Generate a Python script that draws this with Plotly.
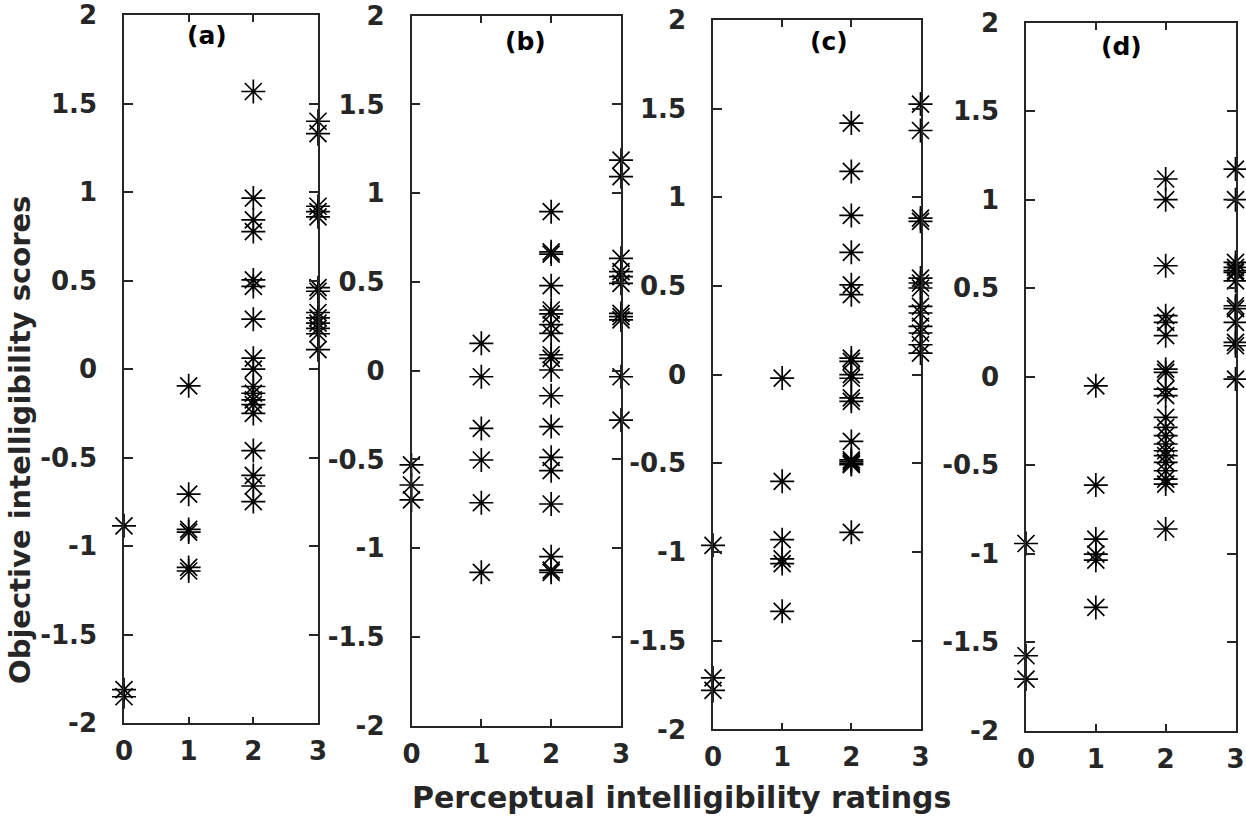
import plotly.graph_objects as go

W, H = 1246, 820

# ---- data: objective intelligibility scores grouped by perceptual rating ----
ratings = [0, 1, 2, 3]

a0 = [-0.885, -1.81, -1.85]
a1 = [-0.094, -0.706, -0.905, -0.92, -1.12, -1.14]
a2 = [1.568, 0.966, 0.843, 0.777, 0.504, 0.467, 0.282, 0.062, 0.0, -0.098, -0.136,
      -0.173, -0.2, -0.25, -0.46, -0.6, -0.66, -0.748]
a3 = [1.40, 1.33, 0.92, 0.89, 0.86, 0.46, 0.44, 0.32, 0.29, 0.26, 0.23, 0.20, 0.11]

b0 = [-0.531, -0.644, -0.728]
b1 = [0.154, -0.034, -0.325, -0.503, -0.744, -1.136]
b2 = [0.896, 0.67, 0.657, 0.479, 0.342, 0.32, 0.26, 0.21, 0.09, 0.07, 0.004, -0.141,
      -0.315, -0.488, -0.563, -0.751, -1.048, -1.123, -1.136]
b3 = [1.186, 1.093, 0.633, 0.558, 0.53, 0.492, 0.323, 0.305, 0.286, -0.034, -0.278]

c0 = [-0.962, -1.71, -1.78]
c1 = [-0.019, -0.601, -0.93, -1.038, -1.065, -1.334]
c2 = [1.419, 1.146, 0.898, 0.69, 0.507, 0.451, 0.094, 0.075, 0.0, -0.02, -0.131,
      -0.15, -0.376, -0.48, -0.49, -0.5, -0.507, -0.889]
c3 = [1.526, 1.377, 0.883, 0.865, 0.545, 0.517, 0.489, 0.385, 0.348, 0.272, 0.235,
      0.169, 0.122]

d0 = [-0.942, -1.576, -1.708]
d1 = [-0.051, -0.612, -0.917, -1.002, -1.036, -1.303]
d2 = [1.117, 1.0, 0.627, 0.345, 0.307, 0.232, 0.043, 0.025, -0.07, -0.107, -0.23,
      -0.286, -0.333, -0.38, -0.418, -0.446, -0.484, -0.531, -0.578, -0.606, -0.86]
d3 = [1.173, 1.0, 0.646, 0.618, 0.6, 0.59, 0.542, 0.401, 0.385, 0.307, 0.194, 0.175,
      -0.013]

panel_labels = ["(a)", "(b)", "(c)", "(d)"]
panel_data = [[a0, a1, a2, a3], [b0, b1, b2, b3], [c0, c1, c2, c3], [d0, d1, d2, d3]]

x_ticks = [0, 1, 2, 3]
y_ticks = [-2, -1.5, -1, -0.5, 0, 0.5, 1, 1.5, 2]
y_ticklabels = ["-2", "-1.5", "-1", "-0.5", "0", "0.5", "1", "1.5", "2"]

x_title = "Perceptual intelligibility ratings"
y_title = "Objective intelligibility scores"

# ---- layout (pixel boxes of the four panels) ----
boxes = [  # left, right, top, bottom
    (124, 318, 15, 723.3),
    (411.5, 621, 15.7, 725.7),
    (713, 920.5, 20, 729.4),
    (1026, 1235.5, 22.7, 730.8),
]
label_pos = [(1.29, 1.887), (1.63, 1.852), (1.67, 1.878), (1.37, 1.863)]


def px(p):
    return p / W


def py(p):
    return 1 - p / H


AX = "#262626"
FONT = "DejaVu Sans"

fig = go.Figure()
for i, (groups, box) in enumerate(zip(panel_data, boxes)):
    xs, ys = [], []
    for r, g in zip(ratings, groups):
        xs += [r] * len(g)
        ys += g
    sfx = "" if i == 0 else str(i + 1)
    fig.add_trace(go.Scatter(
        x=xs, y=ys, mode="markers", xaxis="x" + sfx, yaxis="y" + sfx,
        marker=dict(symbol="asterisk-open", size=20, color="black",
                    line=dict(color="black", width=1.7)),
        cliponaxis=False, showlegend=False, hoverinfo="x+y"))
    l, r, t, b = box
    common = dict(showline=True, linecolor=AX, linewidth=1.6, mirror="ticks",
                  ticks="inside", tickcolor=AX, tickwidth=1.5, showgrid=False,
                  zeroline=False, automargin=False, ticklabeloverflow="allow",
                  tickfont=dict(family=FONT, size=26, color=AX, weight="bold"))
    fig.update_layout(**{
        "xaxis" + sfx: dict(domain=[px(l), px(r)], range=[0, 3], tickvals=x_ticks,
                            ticklen=7, anchor="y" + sfx, ticklabelstandoff=4,
                            **common),
        "yaxis" + sfx: dict(domain=[py(b), py(t)], range=[-2, 2],
                            tickvals=y_ticks, ticktext=y_ticklabels, ticklen=9,
                            anchor="x" + sfx, ticklabelstandoff=20, **common),
    })
    lx, ly = label_pos[i]
    fig.add_annotation(x=lx, y=ly, xref="x" + sfx, yref="y" + sfx,
                       text=panel_labels[i], showarrow=False,
                       xanchor="center", yanchor="middle",
                       font=dict(family=FONT, size=25, color="black", weight="bold"))

fig.add_annotation(x=px(681), y=py(797), xref="paper", yref="paper",
                   text=x_title, showarrow=False, xanchor="center", yanchor="middle",
                   font=dict(family=FONT, size=30, color=AX, weight="bold"))
fig.add_annotation(x=px(20), y=py(440), xref="paper", yref="paper",
                   text=y_title, showarrow=False, textangle=-90,
                   xanchor="center", yanchor="middle",
                   font=dict(family=FONT, size=29, color=AX, weight="bold"))

fig.update_layout(width=W, height=H,
                  margin=dict(l=0, r=0, t=0, b=0, autoexpand=False),
                  plot_bgcolor="white", paper_bgcolor="white")

fig.write_html("out.html", config={"displayModeBar": False},
               post_script="document.body.style.margin='0';"
                           "document.body.style.overflow='hidden';")
